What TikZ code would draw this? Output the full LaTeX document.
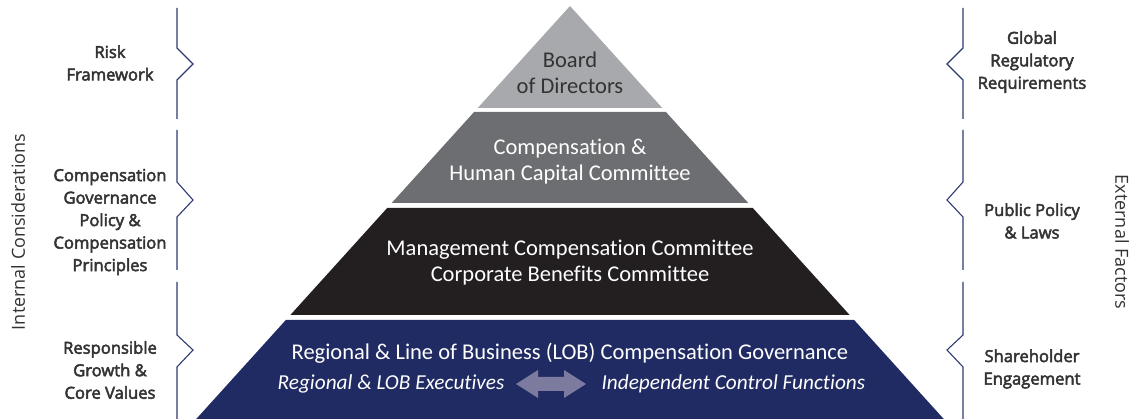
\documentclass[tikz,border=0pt]{standalone}
\usepackage{fontspec}
\setmainfont{Carlito}[Ligatures=NoCommon]
\newfontfamily\sidefont{Open Sans}[BoldFont={Open Sans}, BoldFeatures={FakeBold=3}]
\newfontfamily\axisfont{Open Sans}
\usepackage{xcolor}
\definecolor{tierA}{HTML}{A7A9AC}
\definecolor{tierB}{HTML}{6D6E71}
\definecolor{tierC}{HTML}{231F20}
\definecolor{tierD}{HTML}{212B63}
\definecolor{bracketline}{HTML}{2E3A72}
\definecolor{swapfill}{HTML}{7C7B9F}
\definecolor{sidetext}{HTML}{333333}

\tikzset{
	tiertext/.style={align=center, font=\fontsize{22.5}{26}\selectfont, text=white},
	lobtext/.style={text=white, font=\fontsize{21.3}{26}\selectfont\itshape},
	sidelabel/.style={align=center, font=\sidefont\bfseries\fontsize{16.6}{22.5}\selectfont, text=sidetext},
	axislabel/.style={font=\axisfont\fontsize{18}{20}\selectfont, text=sidetext},
	bracket/.style={draw=bracketline, line width=1.1pt, line join=miter}
}

\begin{document}
\begin{tikzpicture}[x=1pt, y=-1pt]
			\useasboundingbox (0,0) rectangle (1133,419);
			
			\foreach \ytop/\ybot/\col in {6/108/tierA, 112/203/tierB, 208/315/tierC, 320/419/tierD}
			\fill[\col] ({570-0.905*(\ytop-6)},\ytop) -- ({570+0.905*(\ytop-6)},\ytop)
				-- ({570+0.905*(\ybot-6)},\ybot) -- ({570-0.905*(\ybot-6)},\ybot) -- cycle;
			
			\node[tiertext, text=sidetext] (board) at (570,73) {Board\\of Directors};
			\node[tiertext] (chc) at (570,162) {Compensation \&\\Human Capital Committee};
			\node[tiertext] (mcc) at (570,263) {Management Compensation Committee\\Corporate Benefits Committee};
			\node[tiertext] (lob) at (570,353) {Regional \& Line of Business (LOB) Compensation Governance};
			\node[lobtext, anchor=east] (exec) at (508,384) {Regional \& LOB Executives};
			\node[lobtext, anchor=west] (ctrl) at (598,384) {Independent Control Functions};
			
			\fill[swapfill] (516,384) -- (538,370) -- (538,377) -- (564,377) -- (564,370) -- (586,384)
				-- (564,398) -- (564,391) -- (538,391) -- (538,398) -- cycle;
			
			\foreach \a/\b/\c/\d/\e in {8/48/64/80/119, 130/182/200/217/270, 282/335/350/367/419}{
				\draw[bracket] (177,\a) -- (177,\b) -- (193,\c) -- (177,\d) -- (177,\e);
				\draw[bracket] (963,\a) -- (963,\b) -- (947,\c) -- (963,\d) -- (963,\e);
			}
			
			\node[sidelabel] (risk) at (110,63) {Risk\\Framework};
			\node[sidelabel] (policy) at (110,222) {Compensation\\Governance\\Policy \&\\Compensation\\Principles};
			\node[sidelabel] (growth) at (110,370) {Responsible\\Growth \&\\Core Values};
			\node[sidelabel] (global) at (1032,62) {Global\\Regulatory\\Requirements};
			\node[sidelabel] (laws) at (1032,221) {Public Policy\\\& Laws};
			\node[sidelabel] (holder) at (1032,369) {Shareholder\\Engagement};
			
			\node[axislabel, rotate=90] (internal) at (18,232) {Internal Considerations};
			\node[axislabel, rotate=-90] (external) at (1122,242) {External Factors};
		\end{tikzpicture}
\end{document}
